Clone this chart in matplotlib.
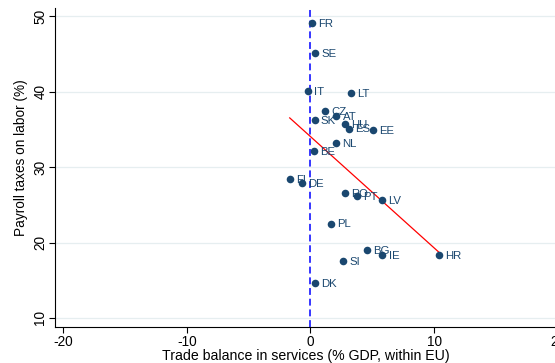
import numpy as np
import matplotlib
matplotlib.use('Agg')
import matplotlib.pyplot as plt

plt.rcParams['font.family'] = ['Liberation Sans', 'DejaVu Sans']
plt.rcParams['axes.unicode_minus'] = False

# services trade balance (% of GDP, intra-EU) and payroll taxes on labour (%)
countries = ['FR', 'SE', 'IT', 'LT', 'CZ', 'AT', 'SK', 'HU', 'ES', 'EE', 'NL', 'BE',
             'FI', 'DE', 'RO', 'PT', 'LV', 'PL', 'BG', 'IE', 'HR', 'SI', 'DK']
trade_balance = [0.14, 0.40, -0.22, 3.25, 1.16, 2.10, 0.35, 2.79, 3.15, 5.07, 2.10, 0.30,
                 -1.68, -0.65, 2.76, 3.78, 5.79, 1.68, 4.55, 5.83, 10.38, 2.63, 0.40]
payroll_tax = [49.1, 45.1, 40.1, 39.8, 37.4, 36.8, 36.2, 35.7, 35.1, 34.9, 33.2, 32.1,
               28.4, 27.9, 26.5, 26.2, 25.6, 22.5, 19.0, 18.3, 18.3, 17.5, 14.6]

navy = '#1a476f'

fig = plt.figure(figsize=(5.55, 3.63), dpi=100)
ax = fig.add_axes([0.0991, 0.0992, 0.95, 0.879])

x = np.array(trade_balance)
y = np.array(payroll_tax)

ax.scatter(x, y, s=30, color=navy, zorder=3, linewidths=0)
for c, xi, yi in zip(countries, x, y):
    ax.annotate(c, (xi, yi), xytext=(4.4, -0.6), textcoords='offset points',
                va='center', ha='left', fontsize=8.2, color=navy, zorder=4)

# linear fit over the observed range
slope, intercept = np.polyfit(x, y, 1)
xs = np.array([x.min(), x.max()])
ax.plot(xs, intercept + slope * xs, color='red', lw=0.9, zorder=2)

ax.axvline(0, color='blue', lw=1.1, linestyle=(0, (4.5, 2.5)), zorder=2)

ax.set_xlim(-20.68, 22.0)
ax.set_ylim(8.8, 51.1)
ax.set_xticks([-20, -10, 0, 10, 20])
ax.set_yticks([10, 20, 30, 40, 50])
ax.grid(axis='y', color='#e6eef0', lw=0.9)
ax.set_axisbelow(True)

for s in ['top', 'right']:
    ax.spines[s].set_visible(False)
for s in ['left', 'bottom']:
    ax.spines[s].set_linewidth(0.8)
ax.tick_params(direction='out', length=4, width=0.8, labelsize=9.8, pad=1.5)
for lab in ax.get_yticklabels():
    lab.set_rotation(90)
    lab.set_va('center')

ax.set_xlabel('Trade balance in services (% GDP, within EU)', fontsize=10.2)
ax.xaxis.set_label_coords(0.476, -0.068)
ax.set_ylabel('Payroll taxes on labor (%)', fontsize=9.8)
ax.yaxis.set_label_coords(-0.052, 0.53)

fig.savefig('out.png', dpi=100)
